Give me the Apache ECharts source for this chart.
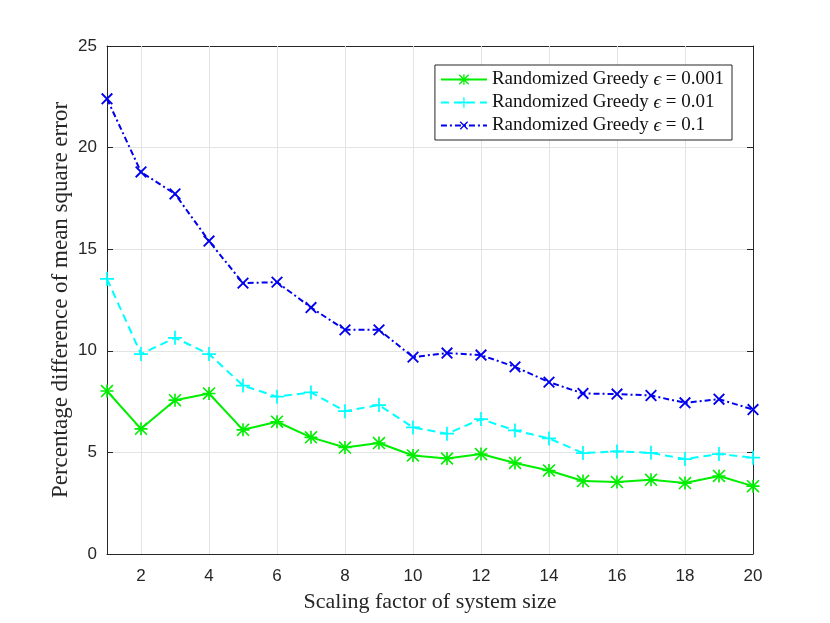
<!DOCTYPE html>
<html>
<head>
<meta charset="utf-8">
<script src="https://cdn.jsdelivr.net/npm/echarts@6/dist/echarts.min.js"></script>
<style>
  html, body { margin: 0; padding: 0; background: #fff; }
  #chart { width: 830px; height: 623px; }
</style>
</head>
<body>
<div id="chart"></div>
<script>
'use strict';

// 数据
const scaleFactors = [1, 2, 3, 4, 5, 6, 7, 8, 9, 10, 11, 12, 13, 14, 15, 16, 17, 18, 19, 20];
const eps0001 = [8.02, 6.16, 7.57, 7.90, 6.11, 6.51, 5.74, 5.24, 5.46, 4.85, 4.70, 4.92, 4.48, 4.11, 3.59, 3.54, 3.65, 3.49, 3.84, 3.34];
const eps001 = [13.54, 9.84, 10.64, 9.84, 8.29, 7.74, 7.95, 7.03, 7.33, 6.23, 5.92, 6.64, 6.08, 5.69, 4.97, 5.05, 4.98, 4.67, 4.92, 4.74];
const eps01 = [22.40, 18.80, 17.72, 15.40, 13.33, 13.38, 12.13, 11.03, 11.03, 9.69, 9.89, 9.79, 9.21, 8.46, 7.90, 7.87, 7.80, 7.44, 7.62, 7.11];
const xTicks = [2, 4, 6, 8, 10, 12, 14, 16, 18, 20];
const seriesNames = ['0.001', '0.01', '0.1'];

// 标记形状
const PLUS = 'path://M7,0 L9,0 L9,16 L7,16 Z M0,7 L16,7 L16,9 L0,9 Z';
const STAR = 'path://M7,0 L9,0 L9,16 L7,16 Z M0,7 L16,7 L16,9 L0,9 Z ' +
    'M1.4,0 L16,14.6 L14.6,16 L0,1.4 Z M14.6,0 L16,1.4 L1.4,16 L0,14.6 Z';

const pairs = ys => scaleFactors.map((x, i) => [x, ys[i]]);
const serif = 'Liberation Serif';
const sans = 'Liberation Sans';
const axisColor = '#262626';
const gridColor = '#e3e3e3';

function baseX(show) {
    return {
        type: 'value', min: 1, max: 20,
        axisLine: { show: true, onZero: false, lineStyle: { color: axisColor, width: 1 } },
        axisTick: { show: true, inside: true, length: 6, customValues: xTicks, lineStyle: { color: axisColor } },
        axisLabel: { show: show, customValues: xTicks, margin: 14, color: '#262626', fontFamily: sans, fontSize: 17 },
        splitLine: { show: false }
    };
}

function baseY(show) {
    return {
        type: 'value', min: 0, max: 25, interval: 5,
        axisLine: { show: true, lineStyle: { color: axisColor, width: 1 } },
        axisTick: { show: true, inside: true, length: 6, lineStyle: { color: axisColor } },
        axisLabel: { show: show, margin: 10, color: '#262626', fontFamily: sans, fontSize: 17 },
        splitLine: { show: show, lineStyle: { color: gridColor, width: 1 } }
    };
}

const chart = echarts.init(document.getElementById('chart'));

const xMain = Object.assign(baseX(true), {
    position: 'bottom',
    name: 'Scaling factor of system size',
    nameLocation: 'middle', nameGap: 37, nameMoveOverlap: false,
    nameTextStyle: { fontFamily: serif, fontSize: 22, color: '#262626' }
});
const xTop = Object.assign(baseX(false), { position: 'top' });
const yMain = Object.assign(baseY(true), {
    position: 'left',
    name: 'Percentage difference of mean square error',
    nameLocation: 'middle', nameGap: 35, nameMoveOverlap: false,
    nameTextStyle: { fontFamily: serif, fontSize: 23, color: '#262626' }
});
const yRight = Object.assign(baseY(false), { position: 'right' });

const option = {
    backgroundColor: '#fff',
    animation: false,
    grid: { left: 107, right: 77, top: 46, bottom: 69, containLabel: false },
    legend: {
        right: 98, top: 65, z: 20,
        orient: 'vertical',
        backgroundColor: '#fff',
        borderColor: '#262626', borderWidth: 1, borderRadius: 0,
        padding: [5, 8, 5, 5],
        itemGap: 4, itemWidth: 46, itemHeight: 13,
        formatter: name => {
            const i = ['g1', 'g2', 'g3'].indexOf(name);
            return 'Randomized Greedy {e|\u03F5} = ' + seriesNames[i];
        },
        textStyle: {
            fontFamily: serif, fontSize: 19, color: '#111',
            rich: { e: { fontFamily: serif, fontStyle: 'italic', fontSize: 19, color: '#111' } }
        },
        data: ['g1', 'g2', 'g3']
    },
    xAxis: [xMain, xTop],
    yAxis: [yMain, yRight],
    series: [
        {
            name: 'g1', type: 'line', data: pairs(eps0001),
            symbol: STAR, symbolSize: 13,
            itemStyle: { color: '#00ee00' },
            lineStyle: { color: '#00ee00', width: 2, type: 'solid' },
            z: 4
        },
        {
            name: 'g2', type: 'line', data: pairs(eps001),
            symbol: PLUS, symbolSize: 14,
            itemStyle: { color: '#00ffff' },
            lineStyle: { color: '#00ffff', width: 2, type: [8, 5] },
            z: 3
        },
        {
            name: 'g3', type: 'line', data: pairs(eps01),
            symbol: PLUS, symbolSize: 15, symbolRotate: 45,
            itemStyle: { color: '#0000ee' },
            lineStyle: { color: '#0000ee', width: 2, type: [6, 3, 2, 3] },
            z: 5
        },
        {
            // 竖向网格线（同时挂在上、右坐标轴上）
            type: 'line', data: [], silent: true, z: 1,
            xAxisIndex: 1, yAxisIndex: 1,
            markLine: {
                silent: true, symbol: 'none', z: 1, label: { show: false },
                lineStyle: { color: gridColor, width: 1, type: 'solid' },
                data: xTicks.slice(0, -1).map(v => ({ xAxis: v }))
            }
        }
    ]
};

chart.setOption(option);
</script>
</body>
</html>
